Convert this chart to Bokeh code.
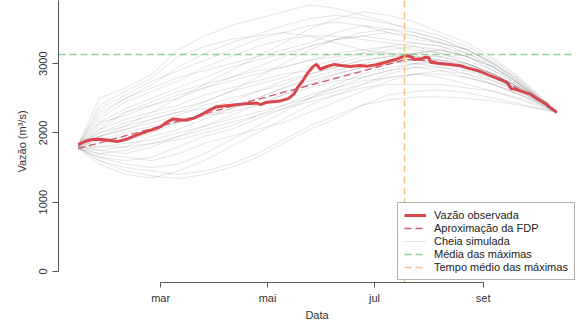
import pandas as pd
from bokeh.plotting import figure
from bokeh.models import Range1d, FixedTicker, Legend, LegendItem
from bokeh.embed import file_html
from bokeh.resources import INLINE

# ---------------- data ----------------
sim_dates = ["2019-01-13", "2019-01-25", "2019-02-09", "2019-02-24", "2019-03-11",
             "2019-03-26", "2019-04-10", "2019-04-25", "2019-05-10", "2019-05-25",
             "2019-06-09", "2019-06-24", "2019-07-09", "2019-07-24", "2019-08-08",
             "2019-08-23", "2019-09-07", "2019-09-22", "2019-10-05", "2019-10-13"]

sim_1 = [1820, 2250, 2500, 2700, 2950, 3150, 3300, 3420, 3550, 3650, 3700, 3650, 3580, 3500, 3400, 3250, 3050, 2780, 2480, 2300]
sim_2 = [1830, 2400, 2600, 2800, 3100, 3250, 3350, 3400, 3450, 3400, 3300, 3200, 3150, 3150, 3200, 3100, 2950, 2700, 2450, 2300]
sim_3 = [1790, 1600, 1450, 1380, 1340, 1400, 1500, 1650, 1850, 2050, 2200, 2400, 2550, 2600, 2620, 2580, 2500, 2420, 2340, 2300]
sim_4 = [1780, 1700, 1650, 1600, 1700, 1850, 1950, 2050, 2150, 2300, 2450, 2600, 2750, 2850, 2800, 2700, 2600, 2480, 2360, 2300]
sim_5 = [1800, 1900, 2000, 2100, 2150, 2300, 2400, 2500, 2650, 2800, 2900, 3000, 3050, 3000, 2950, 2900, 2750, 2600, 2420, 2300]
sim_6 = [1810, 1950, 2100, 2300, 2500, 2700, 2900, 3100, 3300, 3500, 3650, 3750, 3700, 3600, 3450, 3300, 3080, 2800, 2500, 2300]
sim_7 = [1840, 2500, 2650, 2850, 3200, 3400, 3550, 3650, 3750, 3850, 3800, 3700, 3600, 3450, 3350, 3200, 3000, 2750, 2470, 2300]
sim_8 = [1770, 1550, 1400, 1350, 1450, 1600, 1800, 2000, 2200, 2400, 2550, 2700, 2850, 2950, 2950, 2850, 2700, 2550, 2400, 2300]
sim_9 = [1800, 2050, 2200, 2300, 2400, 2550, 2650, 2750, 2850, 2900, 3000, 3100, 3200, 3250, 3150, 3000, 2850, 2650, 2450, 2300]
sim_10 = [1790, 1800, 1850, 1900, 2000, 2100, 2200, 2300, 2400, 2500, 2600, 2700, 2800, 2850, 2900, 2850, 2750, 2580, 2420, 2300]
sim_11 = [1810, 2150, 2350, 2500, 2650, 2800, 2950, 3050, 3150, 3250, 3350, 3400, 3450, 3400, 3300, 3150, 2950, 2700, 2460, 2300]
sim_12 = [1780, 1650, 1550, 1500, 1550, 1700, 1900, 2100, 2300, 2500, 2700, 2850, 2950, 3000, 3000, 2950, 2800, 2620, 2430, 2300]
sim_13 = [1820, 2000, 2150, 2250, 2350, 2450, 2600, 2800, 3000, 3200, 3350, 3450, 3500, 3450, 3350, 3200, 3000, 2720, 2460, 2300]
sim_14 = [1800, 1750, 1700, 1800, 1950, 2050, 2150, 2250, 2350, 2450, 2550, 2650, 2700, 2700, 2700, 2650, 2600, 2500, 2380, 2300]
sim_15 = [1830, 2300, 2500, 2650, 2800, 2900, 3000, 3100, 3200, 3300, 3450, 3550, 3500, 3400, 3300, 3200, 3000, 2750, 2480, 2300]
sim_16 = [1790, 1850, 1900, 2000, 2150, 2250, 2300, 2400, 2550, 2650, 2750, 2800, 2900, 3000, 3050, 3000, 2850, 2650, 2440, 2300]
sim_17 = [1810, 1950, 2050, 2200, 2300, 2450, 2600, 2700, 2800, 2950, 3050, 3150, 3250, 3300, 3250, 3100, 2900, 2680, 2450, 2300]
sim_18 = [1780, 1600, 1500, 1450, 1400, 1450, 1550, 1700, 1900, 2100, 2250, 2400, 2480, 2520, 2520, 2500, 2460, 2400, 2340, 2300]
sim_19 = [1800, 2100, 2300, 2450, 2600, 2700, 2800, 2900, 2950, 3050, 3150, 3200, 3250, 3200, 3150, 3050, 2900, 2680, 2450, 2300]
sim_20 = [1800, 1900, 1950, 2050, 2150, 2250, 2350, 2450, 2600, 2700, 2800, 2900, 3000, 3100, 3100, 3000, 2850, 2650, 2440, 2300]
sim_21 = [1820, 2200, 2450, 2600, 2750, 2950, 3100, 3250, 3350, 3400, 3400, 3350, 3300, 3250, 3200, 3100, 2950, 2700, 2450, 2300]
sim_22 = [1790, 1700, 1750, 1850, 1900, 2000, 2100, 2250, 2400, 2550, 2650, 2750, 2800, 2850, 2850, 2800, 2700, 2550, 2400, 2300]
sim_23 = [1810, 2000, 2100, 2200, 2300, 2350, 2450, 2600, 2700, 2850, 2950, 3050, 3100, 3100, 3050, 2950, 2800, 2620, 2440, 2300]
sim_24 = [1800, 1800, 1800, 1850, 1950, 2100, 2250, 2400, 2550, 2700, 2850, 2950, 3050, 3150, 3200, 3100, 2950, 2700, 2460, 2300]
sim_25 = [1800, 2150, 2250, 2400, 2550, 2650, 2750, 2850, 2950, 3050, 3100, 3150, 3150, 3100, 3050, 2980, 2850, 2650, 2440, 2300]
sim_26 = [1790, 1750, 1800, 1950, 2050, 2200, 2350, 2500, 2650, 2750, 2850, 2950, 3000, 3050, 3000, 2920, 2780, 2600, 2420, 2300]
sim_27 = [1810, 2050, 2300, 2400, 2500, 2650, 2800, 2950, 3100, 3250, 3350, 3400, 3350, 3300, 3250, 3150, 2980, 2720, 2460, 2300]
sim_28 = [1780, 1650, 1600, 1650, 1800, 1950, 2050, 2200, 2350, 2500, 2650, 2800, 2900, 2950, 2900, 2800, 2700, 2560, 2400, 2300]
sim_29 = [1820, 2350, 2550, 2750, 2900, 3050, 3200, 3350, 3450, 3550, 3600, 3550, 3450, 3350, 3300, 3200, 3020, 2760, 2470, 2300]
sim_30 = [1800, 1950, 2050, 2150, 2250, 2400, 2500, 2600, 2750, 2850, 2950, 3050, 3100, 3150, 3100, 3000, 2850, 2660, 2440, 2300]

obs_dates = ["2019-01-13", "2019-01-17", "2019-01-21", "2019-01-26", "2019-01-30", "2019-02-04",
             "2019-02-09", "2019-02-16", "2019-02-22", "2019-02-26", "2019-03-01", "2019-03-04",
             "2019-03-08", "2019-03-12", "2019-03-16", "2019-03-20", "2019-03-24", "2019-03-28",
             "2019-04-02", "2019-04-10", "2019-04-18", "2019-04-25", "2019-04-27", "2019-04-30",
             "2019-05-08", "2019-05-13", "2019-05-16", "2019-05-18", "2019-05-21", "2019-05-24",
             "2019-05-27", "2019-05-29", "2019-05-31", "2019-06-04", "2019-06-08", "2019-06-12",
             "2019-06-17", "2019-06-23", "2019-06-27", "2019-07-02", "2019-07-06", "2019-07-13",
             "2019-07-17", "2019-07-20", "2019-07-22", "2019-07-24", "2019-07-28", "2019-07-30",
             "2019-08-01", "2019-08-02", "2019-08-08", "2019-08-13", "2019-08-19", "2019-08-23",
             "2019-08-29", "2019-09-03", "2019-09-08", "2019-09-13", "2019-09-15", "2019-09-17",
             "2019-09-19", "2019-09-23", "2019-09-28", "2019-10-02", "2019-10-07", "2019-10-09",
             "2019-10-13"]
obs_flow = [1830, 1880, 1905, 1910, 1895, 1875,
            1905, 1975, 2030, 2060, 2090, 2150,
            2200, 2190, 2185, 2215, 2260, 2320,
            2380, 2400, 2420, 2430, 2410, 2440,
            2460, 2500, 2560, 2650, 2750, 2870,
            2960, 2990, 2920, 2960, 2990, 2975,
            2960, 2975, 2965, 2985, 3010, 3060,
            3100, 3115, 3100, 3060, 3070, 3095,
            3090, 3020, 3000, 2990, 2970, 2940,
            2900, 2850, 2800, 2750, 2720, 2640,
            2635, 2600, 2560, 2490, 2420, 2370,
            2300]

fdp_dates = ["2019-01-13", "2019-02-09", "2019-03-11", "2019-04-10", "2019-05-10", "2019-06-09",
             "2019-07-04", "2019-07-19", "2019-08-03", "2019-08-18", "2019-09-02", "2019-09-17",
             "2019-10-02", "2019-10-13"]
fdp_flow = [1775, 1960, 2170, 2380, 2585, 2790, 2960, 3060, 3040, 2970, 2860, 2690, 2500, 2300]

mean_of_maxima = 3140
mean_time_of_maxima = "2019-07-18"

tick_dates = ["2019-03-01", "2019-05-01", "2019-07-01", "2019-09-01"]
tick_labels = ["mar", "mai", "jul", "set"]
y_ticks = [0, 1000, 2000, 3000, 4000]

labels = ["Vazão observada", "Aproximação da FDP", "Cheia simulada",
          "Média das máximas", "Tempo médio das máximas"]


def doy(dates):
    return [float(d) for d in pd.to_datetime(pd.Series(dates)).dt.dayofyear]


sims = [sim_1, sim_2, sim_3, sim_4, sim_5, sim_6, sim_7, sim_8, sim_9, sim_10,
        sim_11, sim_12, sim_13, sim_14, sim_15, sim_16, sim_17, sim_18, sim_19, sim_20,
        sim_21, sim_22, sim_23, sim_24, sim_25, sim_26, sim_27, sim_28, sim_29, sim_30]

FONT = "Liberation Sans"

p = figure(width=577, height=323, output_backend="svg", toolbar_location=None,
           x_range=Range1d(1.7, 296.7), y_range=Range1d(-160, 3913),
           min_border_left=58, min_border_right=2, min_border_top=0, min_border_bottom=0)
p.outline_line_color = None
p.xgrid.visible = False
p.ygrid.visible = False
p.background_fill_color = "white"
p.border_fill_color = "white"

sx = doy(sim_dates)
sim_r = None
for s in sims:
    sim_r = p.line(sx, s, line_color="#6a6a6a", line_alpha=0.2, line_width=0.9)

obs_r = p.line(doy(obs_dates), obs_flow, line_color="#d9474d", line_width=3)
fdp_r = p.line(doy(fdp_dates), fdp_flow, line_color="#c94a62", line_width=1.3,
               line_dash="7 4", line_alpha=0.9)
green_r = p.hspan(y=[mean_of_maxima], line_color="#8fd19a", line_width=1.5, line_dash="7 4")
orange_r = p.vspan(x=doy([mean_time_of_maxima]), line_color="#f3c27d", line_width=1.5, line_dash="7 4")

# axes
ax = p.xaxis[0]
tx = doy(tick_dates)
ax.ticker = FixedTicker(ticks=tx)
ax.major_label_overrides = {t: l for t, l in zip(tx, tick_labels)}
ax.bounds = (tx[0], tx[-1])
ax.axis_label = "Data"
ay = p.yaxis[0]
ay.ticker = FixedTicker(ticks=y_ticks)
ay.bounds = (y_ticks[0], y_ticks[-1])
ay.axis_label = "Vazão (m³/s)"
ay.major_label_orientation = "vertical"
for a in (ax, ay):
    a.minor_tick_line_color = None
    a.major_tick_in = 0
    a.major_tick_out = 6
    a.axis_line_color = "#555555"
    a.major_tick_line_color = "#555555"
    a.major_label_text_font = FONT
    a.major_label_text_font_size = "11px"
    a.major_label_text_color = "#333333"
    a.axis_label_text_font = FONT
    a.axis_label_text_font_size = "11px"
    a.axis_label_text_font_style = "normal"
    a.axis_label_text_color = "#333333"
ax.major_tick_out = 5
ax.major_label_standoff = 4
ax.axis_label_standoff = 2
ay.major_label_standoff = 5
ay.axis_label_standoff = 9

legend = Legend(items=[LegendItem(label=labels[0], renderers=[obs_r]),
                       LegendItem(label=labels[1], renderers=[fdp_r]),
                       LegendItem(label=labels[2], renderers=[sim_r]),
                       LegendItem(label=labels[3], renderers=[green_r]),
                       LegendItem(label=labels[4], renderers=[orange_r])],
                location=(339, 2))
legend.label_text_font = FONT
legend.label_text_font_size = "11px"
legend.label_text_color = "#222222"
legend.label_height = 12
legend.glyph_height = 12
legend.glyph_width = 22
legend.label_standoff = 8
legend.spacing = 1
legend.padding = 6
legend.margin = 0
legend.border_line_color = "#666666"
legend.border_line_width = 1
legend.background_fill_alpha = 1
p.add_layout(legend)

open("out.html", "w").write(file_html(p, INLINE))
